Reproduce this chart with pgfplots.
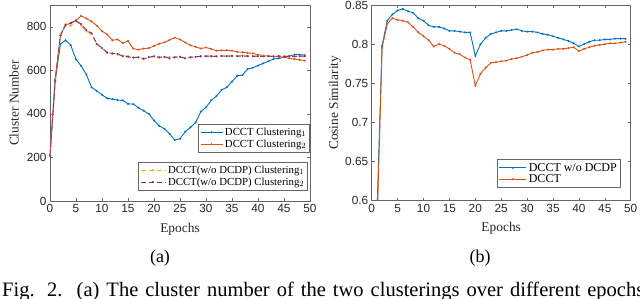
\documentclass[border=0pt]{standalone}
\usepackage{fontspec}
\setmainfont{Liberation Serif}
\newfontfamily\arialf{Liberation Sans}
\usepackage{pgfplots}
\pgfplotsset{compat=1.18}
\definecolor{mblue}{rgb}{0,0.447,0.741}
\definecolor{morange}{rgb}{0.85,0.325,0.098}
\definecolor{myellow}{rgb}{0.929,0.694,0.125}
\definecolor{mpurple}{rgb}{0.494,0.184,0.556}
\pgfplotsset{
  mystyle/.style={
    scale only axis, xmin=0, xmax=50, xtick={0,5,...,50},
    axis line style={black!60, line width=0.5pt},
    tick style={black!60, line width=0.5pt},
    major tick length=3pt,
    tick align=inside,
    ticklabel style={font=\arialf\fontsize{11.8}{12}\selectfont, text=black!85},
    /pgf/number format/assume math mode=true,
    label style={font=\fontsize{13.4}{14}\selectfont, text=black!85},
    every axis plot/.append style={line width=0.9pt, mark=*, mark size=0.5pt, every mark/.append style={solid}},
    legend cell align=left,
  },
  leglen/.style={legend image code/.code={\draw[mark repeat=2,mark phase=2,##1] plot coordinates {(0pt,0pt) (#1/2,0pt) (#1,0pt)};}},
}
\begin{document}
\begin{tikzpicture}[x=1pt,y=1pt]
\path[use as bounding box, clip] (0,0) rectangle (640,298);
% ---------------- (a) ----------------
\begin{axis}[mystyle, at={(50pt,97pt)}, anchor=south west, width=260pt, height=196pt,
  ymin=0, ymax=900, ytick={0,200,400,600,800},
  xlabel={Epochs}, ylabel={Cluster Number},
  xlabel style={at={(axis description cs:0.5,-0.143)}, anchor=center},
  ylabel style={at={(axis description cs:-0.138,0.5)}, anchor=center},
  leglen=22pt,
  legend style={at={(1,0.393)}, anchor=north east, draw=black!60, line width=0.5pt,
    font=\fontsize{10.8}{12}\selectfont, row sep=-1pt, inner sep=1.5pt},
]
\addplot[color=mblue] coordinates {
(0,210)(1,550)(2,720)(3,738)(4,715)(5,650)(6,620)(7,580)(8,522)(9,505)
(10,488)(11,471)(12,468)(13,463)(14,462)(15,446)(16,445)(17,428)(18,415)(19,400)
(20,370)(21,345)(22,332)(23,308)(24,280)(25,286)(26,318)(27,338)(28,360)(29,410)
(30,430)(31,462)(32,482)(33,510)(34,522)(35,548)(36,575)(37,578)(38,606)(39,612)
(40,622)(41,632)(42,642)(43,652)(44,655)(45,660)(46,665)(47,672)(48,672)(49,670)};
\addlegendentry{DCCT Clustering$_1$}
\addplot[color=morange] coordinates {
(0,210)(1,560)(2,760)(3,810)(4,815)(5,830)(6,850)(7,838)(8,825)(9,805)
(10,780)(11,765)(12,738)(13,742)(14,725)(15,735)(16,700)(17,695)(18,700)(19,702)
(20,712)(21,722)(22,728)(23,740)(24,750)(25,742)(26,728)(27,715)(28,708)(29,700)
(30,705)(31,698)(32,690)(33,692)(34,692)(35,690)(36,685)(37,683)(38,680)(39,678)
(40,672)(41,668)(42,665)(43,663)(44,662)(45,660)(46,655)(47,652)(48,648)(49,645)};
\addlegendentry{DCCT Clustering$_2$}
\end{axis}
\begin{axis}[mystyle, hide axis, at={(50pt,97pt)}, anchor=south west, width=260pt, height=196pt,
  ymin=0, ymax=900,
  leglen=25pt,
  legend style={at={(0.992,0.2)}, anchor=north east, draw=black!60, line width=0.5pt,
    font=\fontsize{10.8}{12}\selectfont, row sep=-1pt, inner sep=1.5pt},
]
\addplot[color=myellow, dash pattern=on 5pt off 3pt] coordinates {
(0,210)(1,560)(2,765)(3,812)(4,805)(5,825)(6,805)(7,780)(8,765)(9,720)
(10,700)(11,680)(12,675)(13,672)(14,668)(15,665)(16,660)(17,660)(18,655)(19,660)
(20,662)(21,658)(22,660)(23,662)(24,660)(25,662)(26,658)(27,660)(28,662)(29,663)
(30,665)(31,665)(32,666)(33,665)(34,667)(35,666)(36,667)(37,667)(38,666)(39,667)
(40,666)(41,667)(42,666)(43,665)(44,666)(45,665)(46,666)(47,665)(48,664)(49,665)};
\addlegendentry{DCCT(w/o DCDP) Clustering$_1$}
\addplot[color=mpurple, dash pattern=on 5pt off 3pt] coordinates {
(0,210)(1,555)(2,760)(3,808)(4,818)(5,828)(6,812)(7,785)(8,770)(9,722)
(10,703)(11,682)(12,678)(13,675)(14,665)(15,662)(16,658)(17,660)(18,652)(19,660)
(20,665)(21,660)(22,662)(23,655)(24,660)(25,662)(26,655)(27,660)(28,662)(29,665)
(30,665)(31,665)(32,664)(33,666)(34,665)(35,666)(36,665)(37,666)(38,665)(39,664)
(40,665)(41,664)(42,665)(43,664)(44,665)(45,664)(46,665)(47,664)(48,665)(49,665)};
\addlegendentry{DCCT(w/o DCDP) Clustering$_2$}
\end{axis}
% ---------------- (b) ----------------
\begin{axis}[mystyle, at={(371.7pt,97.3pt)}, anchor=south west, width=259pt, height=195.7pt,
  ymin=0.6, ymax=0.85, ytick={0.6,0.65,0.7,0.75,0.8,0.85},
  xlabel={Epochs}, ylabel={Cosine Similarity},
  xlabel style={at={(axis description cs:0.5,-0.143)}, anchor=center},
  ylabel style={at={(axis description cs:-0.142,0.5)}, anchor=center},
  leglen=27pt,
  legend style={at={(0.961,0.2115)}, anchor=north east, draw=black!60, line width=0.5pt,
    font=\fontsize{12}{13}\selectfont, row sep=-2pt, inner sep=1.5pt},
]
\addplot[color=mblue] coordinates {
(0,0.30)(1,0.58)(2,0.798)(3,0.830)(4,0.838)(5,0.843)(6,0.845)(7,0.842)(8,0.840)(9,0.833)
(10,0.830)(11,0.824)(12,0.822)(13,0.822)(14,0.820)(15,0.817)(16,0.817)(17,0.816)(18,0.815)(19,0.815)
(20,0.785)(21,0.800)(22,0.808)(23,0.813)(24,0.815)(25,0.817)(26,0.817)(27,0.818)(28,0.819)(29,0.817)
(30,0.816)(31,0.816)(32,0.815)(33,0.813)(34,0.812)(35,0.810)(36,0.808)(37,0.806)(38,0.804)(39,0.801)
(40,0.797)(41,0.800)(42,0.803)(43,0.805)(44,0.805)(45,0.806)(46,0.806)(47,0.807)(48,0.807)(49,0.807)};
\addlegendentry{DCCT w/o DCDP}
\addplot[color=morange] coordinates {
(0,0.30)(1,0.56)(2,0.795)(3,0.826)(4,0.833)(5,0.831)(6,0.830)(7,0.828)(8,0.822)(9,0.815)
(10,0.810)(11,0.805)(12,0.797)(13,0.800)(14,0.798)(15,0.794)(16,0.789)(17,0.787)(18,0.783)(19,0.780)
(20,0.747)(21,0.762)(22,0.770)(23,0.776)(24,0.777)(25,0.778)(26,0.779)(27,0.781)(28,0.782)(29,0.784)
(30,0.786)(31,0.789)(32,0.790)(33,0.792)(34,0.793)(35,0.793)(36,0.794)(37,0.794)(38,0.795)(39,0.796)
(40,0.791)(41,0.794)(42,0.796)(43,0.798)(44,0.799)(45,0.800)(46,0.801)(47,0.801)(48,0.802)(49,0.803)};
\addlegendentry{DCCT}
\end{axis}
% sub-captions and figure caption
\node[font=\fontsize{18}{20}\selectfont] at (160,40) {(a)};
\node[font=\fontsize{18}{20}\selectfont] at (480,40) {(b)};
\node[anchor=base west, inner sep=0pt, font=\fontsize{20.5}{22}\selectfont] at (2,2)
  {\makebox[642pt][s]{Fig. 2.\ \ (a) The cluster number of the two clusterings over different epochs}};
\end{tikzpicture}
\end{document}
